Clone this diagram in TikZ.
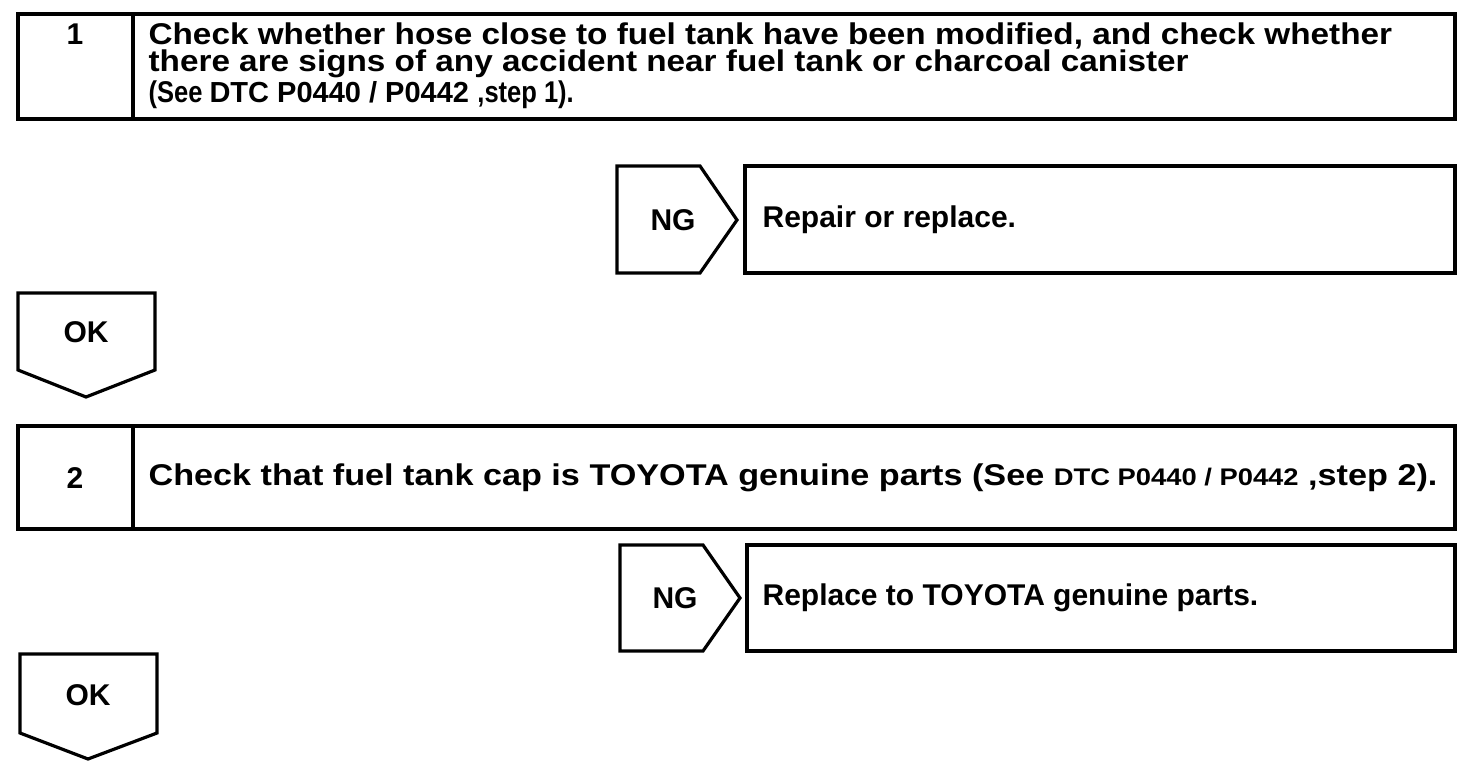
\documentclass[tikz,border=0pt]{standalone}
\usepackage{fontspec}
\setmainfont{Liberation Sans}
\newcommand{\dtc}[1]{{\fontsize{24}{24}\selectfont #1}}
\newcommand{\wide}[1]{\addfontfeature{FakeStretch=#1}}
\begin{document}
\begin{tikzpicture}[x=1pt,y=-1pt,line width=3.2pt,line join=miter,
  every node/.style={font=\bfseries\fontsize{30}{26}\selectfont,inner sep=0pt}]
\useasboundingbox (0,0) rectangle (1472,774);

% Step 1
\draw (18,14) rectangle (1455,119);
\draw (133,14) -- (133,119);
\node (num1) at (75,34) {1};
\node[anchor=north west,align=left] (chk1) at (147,21)
{\wide{1.11}Check whether hose close to fuel tank have been modified, and check whether\\
\wide{1.11}there are signs of any accident near fuel tank or charcoal canister\\[2pt]
{\wide{0.85}(See }{\fontsize{29}{26}\selectfont DTC P0440 / P0442}\ {\wide{0.85},step 1).}};

% NG 1
\draw (617,166) -- (700,166) -- (737,220) -- (700,273) -- (617,273) -- cycle;
\node (ng1) at (673,220) {NG};

% Repair or replace
\draw (745,166) rectangle (1455,273);
\node[anchor=west] (fix1) at (761,220) {Repair or replace.};

% OK 1
\draw (18,293) -- (155,293) -- (155,370) -- (86,397) -- (18,370) -- cycle;
\node (ok1) at (86,332) {OK};

% Step 2
\draw (18,426) rectangle (1455,529);
\draw (133,426) -- (133,529);
\node (num2) at (75,478) {2};
\node[anchor=west] (chk2) at (147,478)
{\wide{1.14}Check that fuel tank cap is TOYOTA genuine parts (See \dtc{DTC P0440 / P0442} ,step 2).};

% NG 2
\draw (620,545) -- (703,545) -- (740,598) -- (703,651) -- (620,651) -- cycle;
\node (ng2) at (675,598) {NG};

% Replace to TOYOTA
\draw (747,545) rectangle (1455,651);
\node[anchor=west] (fix2) at (761,598) {Replace to TOYOTA genuine parts.};

% OK 2
\draw (20,654) -- (157,654) -- (157,733) -- (88,759) -- (20,733) -- cycle;
\node (ok2) at (88,695) {OK};

\end{tikzpicture}
\end{document}
